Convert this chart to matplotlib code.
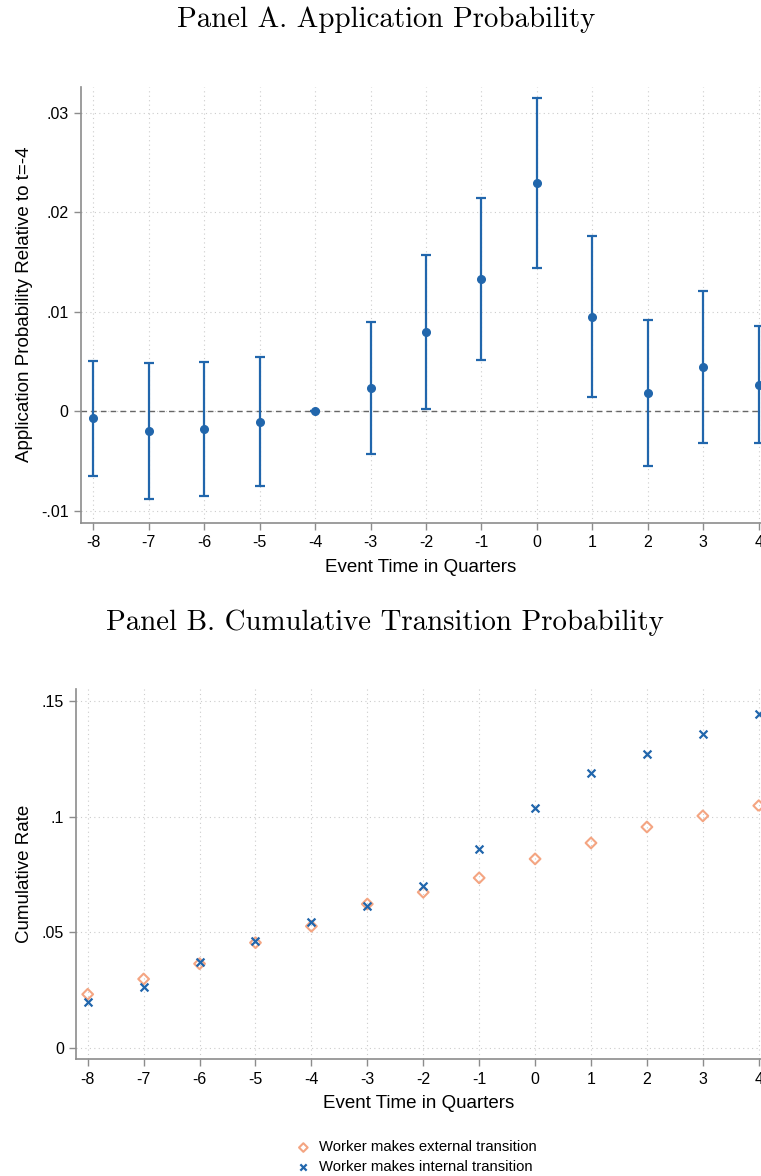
import matplotlib
matplotlib.use("Agg")
import matplotlib.pyplot as plt

# event time in quarters
quarters = [-8, -7, -6, -5, -4, -3, -2, -1, 0, 1, 2, 3, 4]

# panel A: coefficients and 95% CI bounds
coef = [-0.00066, -0.00197, -0.0018, -0.00107, 0.0, 0.00238, 0.008, 0.01328,
        0.0229, 0.0095, 0.00184, 0.00448, 0.0027]
ci_hi = [0.00508, 0.00482, 0.00495, 0.00542, 0.0, 0.009, 0.0157, 0.0214,
         0.03146, 0.01766, 0.0092, 0.01214, 0.0086]
ci_lo = [-0.00645, -0.00876, -0.00852, -0.00752, 0.0, -0.00424, 0.00027, 0.00518,
         0.01435, 0.0014, -0.0055, -0.00314, -0.00314]
ytick_a = [-0.01, 0, 0.01, 0.02, 0.03]
ylab_a = ["-.01", "0", ".01", ".02", ".03"]

# panel B: cumulative rates
external = [0.0232, 0.0298, 0.0364, 0.0455, 0.0526, 0.0622, 0.0673, 0.0735,
            0.0817, 0.0886, 0.0955, 0.1003, 0.1047]
internal = [0.0199, 0.0265, 0.0373, 0.0464, 0.0545, 0.0612, 0.070, 0.0859,
            0.1037, 0.1187, 0.1271, 0.1357, 0.1445]
ytick_b = [0, 0.05, 0.1, 0.15]
ylab_b = ["0", ".05", ".1", ".15"]

blue = "#2166ac"
orange = "#f4a582"
gray = "#8c8c8c"

plt.rcParams["font.family"] = ["Liberation Sans", "DejaVu Sans"]

W, H = 761, 1176
fig = plt.figure(figsize=(W / 100, H / 100), dpi=100)


def style(ax):
    for s in ["top", "right"]:
        ax.spines[s].set_visible(False)
    for s in ["left", "bottom"]:
        ax.spines[s].set_color(gray)
        ax.spines[s].set_linewidth(1.2)
    ax.tick_params(colors=gray, labelcolor="black", labelsize=11.5, length=5,
                   width=1, pad=4)
    ax.grid(True, linestyle=(0, (1, 3)), color="#cccccc", linewidth=0.8)
    ax.set_axisbelow(True)
    ax.set_xticks(quarters)
    ax.set_xticklabels([str(q) for q in quarters])


# Panel A
axA = fig.add_axes([81 / W, 1 - 522.7 / H, (761 - 81) / W, 436 / H])
style(axA)
yerr = [[c - l for c, l in zip(coef, ci_lo)], [h - c for c, h in zip(coef, ci_hi)]]
axA.axhline(0, color="#666666", linestyle=(0, (4, 3)), linewidth=1, zorder=1)
axA.errorbar(quarters, coef, yerr=yerr, fmt="o", color=blue, ms=5.5,
             elinewidth=1.6, capsize=3.5, capthick=1.6, zorder=3)
axA.set_xlim(-8.22, 4.04)
axA.set_ylim(-0.01117, 0.0326)
axA.set_yticks(ytick_a)
axA.set_yticklabels(ylab_a)
axA.set_xlabel("Event Time in Quarters", fontsize=13.5, labelpad=6)
axA.set_ylabel("Application Probability Relative to t=-4", fontsize=13.5, labelpad=6)

# Panel B
axB = fig.add_axes([76.3 / W, 1 - 1059.3 / H, (761 - 76.3) / W, 370 / H])
style(axB)
axB.scatter(quarters, external, marker="D", s=30, facecolors="none",
            edgecolors=orange, linewidths=1.5, zorder=3,
            label="Worker makes external transition")
axB.scatter(quarters, internal, marker="x", s=32, color=blue, linewidths=1.6,
            zorder=4, label="Worker makes internal transition")
axB.set_xlim(-8.204, 4.04)
axB.set_ylim(-0.0049, 0.155)
axB.set_yticks(ytick_b)
axB.set_yticklabels(ylab_b)
axB.set_xlabel("Event Time in Quarters", fontsize=13.5, labelpad=6)
axB.set_ylabel("Cumulative Rate", fontsize=13.5, labelpad=6)
leg = axB.legend(loc="upper left", bbox_to_anchor=(287 / W, 1 - 1133 / H),
                 bbox_transform=fig.transFigure, frameon=False, fontsize=10.7,
                 handletextpad=0.45, labelspacing=0.4, handlelength=1.2,
                 borderpad=0, markerscale=0.8)

fig.text(386 / W, 1 - 20 / H, "Panel A. Application Probability",
         family="cmr10", fontsize=20.8, ha="center", va="center")
fig.text(385 / W, 1 - 623 / H, "Panel B. Cumulative Transition Probability",
         family="cmr10", fontsize=20.8, ha="center", va="center")

fig.savefig("out.png", dpi=100)
